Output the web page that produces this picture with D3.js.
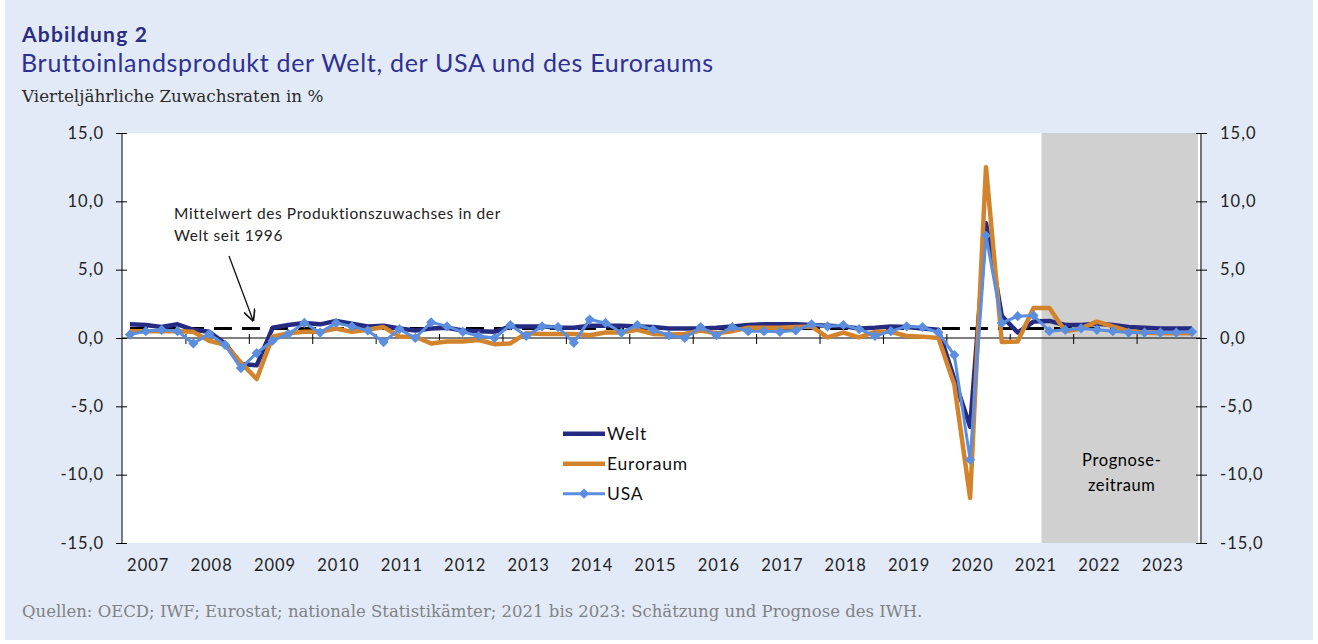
<!DOCTYPE html>
<html>
<head>
<meta charset="utf-8">
<script src="https://cdn.jsdelivr.net/npm/d3@7"></script>
<style>
  body { margin: 0; background: #ffffff; }
  svg { display: block; }
</style>
</head>
<body>
<svg id="chart"></svg>
<script>
// Quartale 2007Q1 bis 2023Q4
const years = d3.range(2007, 2024);
const quarters = years.flatMap(y => [1, 2, 3, 4].map(q => y + "Q" + q));

const welt = [
  1.0, 0.95, 0.8, 1.0, 0.6, 0.45, -0.4, -1.9,
  -2.0, 0.75, 0.95, 1.1, 1.0, 1.25, 1.05, 0.85,
  0.9, 0.7, 0.55, 0.7, 0.75, 0.55, 0.5, 0.45,
  0.85, 0.85, 0.85, 0.75, 0.75, 0.9, 0.9, 0.9,
  0.85, 0.8, 0.7, 0.7, 0.7, 0.75, 0.85, 0.95,
  1.0, 1.0, 1.0, 0.95, 0.9, 0.85, 0.7, 0.75,
  0.85, 0.8, 0.7, 0.6, -3.0, -6.5, 8.4, 1.6,
  0.4, 1.2, 1.25, 0.95, 0.95, 1.05, 0.95, 0.8,
  0.75, 0.7, 0.7, 0.7
];

const euroraum = [
  0.5, 0.5, 0.5, 0.5, 0.45, -0.2, -0.5, -1.8,
  -3.0, 0.1, 0.35, 0.45, 0.45, 0.7, 0.45, 0.6,
  0.8, 0.1, 0.1, -0.4, -0.25, -0.25, -0.15, -0.45,
  -0.4, 0.35, 0.3, 0.3, 0.3, 0.2, 0.4, 0.4,
  0.6, 0.3, 0.25, 0.3, 0.55, 0.35, 0.5, 0.75,
  0.75, 0.75, 0.8, 0.85, 0.05, 0.4, 0.05, 0.45,
  0.45, 0.15, 0.1, 0.0, -3.4, -11.7, 12.5, -0.3,
  -0.25, 2.2, 2.2, 0.5, 0.7, 1.2, 0.85, 0.5,
  0.4, 0.35, 0.35, 0.35
];

const usa = [
  0.25, 0.5, 0.6, 0.5, -0.4, 0.3, -0.5, -2.2,
  -1.1, -0.2, 0.3, 1.1, 0.4, 1.1, 0.85, 0.55,
  -0.3, 0.65, 0.0, 1.15, 0.85, 0.45, 0.15, 0.0,
  0.95, 0.15, 0.85, 0.8, -0.35, 1.35, 1.1, 0.4,
  0.95, 0.6, 0.2, 0.0, 0.8, 0.2, 0.8, 0.5,
  0.5, 0.45, 0.55, 1.0, 0.85, 0.95, 0.65, 0.15,
  0.5, 0.85, 0.8, 0.4, -1.25, -8.9, 7.5, 1.1,
  1.6, 1.65, 0.5, 0.6, 0.7, 0.6, 0.5, 0.4,
  0.4, 0.4, 0.4, 0.45
];

const mittelwert = 0.7;
const prognoseStart = 58; // ab 2021Q3
const yTicks = [-15, -10, -5, 0, 5, 10, 15];

const series = [
  { name: "Welt", values: welt, color: "#262b82", width: 4.5, marker: false },
  { name: "Euroraum", values: euroraum, color: "#d3832b", width: 4.5, marker: false },
  { name: "USA", values: usa, color: "#5b8ede", width: 3, marker: true }
];

const W = 1318, H = 644;
const margin = { top: 133, right: 118, bottom: 101, left: 122 };
const innerW = W - margin.left - margin.right;
const innerH = H - margin.top - margin.bottom;

const de = d3.formatLocale({ decimal: ",", thousands: ".", grouping: [3], currency: ["", " €"], minus: "-" });
const fmt = de.format(".1f");
const sans = "Lato, sans-serif";
const serif = "'DejaVu Serif', serif";

const svg = d3.select("#chart").attr("width", W).attr("height", H);

// Hintergrund
svg.append("rect").attr("width", W).attr("height", H).attr("fill", "#ffffff");
svg.append("rect").attr("x", 5).attr("y", 0).attr("width", W - 10).attr("height", H - 4).attr("fill", "#e3eaf7");

// Titel
svg.append("text").attr("x", 22).attr("y", 42)
  .style("font-family", sans).style("font-weight", "bold").style("font-size", "21px")
  .style("letter-spacing", "1.2px")
  .attr("fill", "#2b2e7f").text("Abbildung 2");
svg.append("text").attr("x", 21).attr("y", 72)
  .style("font-family", sans).style("font-size", "25px").style("letter-spacing", "0.7px")
  .attr("fill", "#2e3192").text("Bruttoinlandsprodukt der Welt, der USA und des Euroraums");
svg.append("text").attr("x", 22).attr("y", 102)
  .style("font-family", serif).style("font-size", "16.8px")
  .attr("fill", "#2b2b2b").text("Vierteljährliche Zuwachsraten in %");
svg.append("text").attr("x", 22).attr("y", 617)
  .style("font-family", serif).style("font-size", "16.5px")
  .attr("fill", "#7f8285")
  .text("Quellen: OECD; IWF; Eurostat; nationale Statistikämter; 2021 bis 2023: Schätzung und Prognose des IWH.");

const g = svg.append("g").attr("transform", "translate(" + margin.left + "," + margin.top + ")");

const x = d3.scaleLinear().domain([0, quarters.length]).range([0, innerW]);
const y = d3.scaleLinear().domain([-15, 15]).range([innerH, 0]);
const xq = i => x(i + 0.5);

// Plotfläche
g.append("rect").attr("width", innerW).attr("height", innerH).attr("fill", "#ffffff");
g.append("rect")
  .attr("x", x(prognoseStart)).attr("y", 0)
  .attr("width", x(quarters.length) - x(prognoseStart) - 2).attr("height", innerH)
  .attr("fill", "#d0d0d0");

const progText = g.append("text")
  .attr("text-anchor", "middle")
  .style("font-family", sans).style("font-size", "16.5px").style("letter-spacing", "0.6px")
  .attr("fill", "#000");
progText.append("tspan").attr("x", x(63) + 1).attr("y", y(-9.4)).text("Prognose-");
progText.append("tspan").attr("x", x(63) + 1).attr("y", y(-11.2)).text("zeitraum");

// Y-Achsen links und rechts
const axisFont = sel => sel.selectAll("text")
  .style("font-family", sans).style("font-size", "16.5px").style("letter-spacing", "1px").attr("fill", "#222");

const yLeft = g.append("g")
  .call(d3.axisLeft(y).tickValues(yTicks).tickFormat(fmt).tickSize(6).tickPadding(12));
yLeft.selectAll(".tick line").attr("x2", -6).attr("x1", 5);
yLeft.select(".domain").attr("d", "M0," + y(15) + "V" + y(-15));
axisFont(yLeft);

const yRight = g.append("g").attr("transform", "translate(" + (innerW + 1) + ",0)")
  .call(d3.axisRight(y).tickValues(yTicks).tickFormat(fmt).tickSize(6).tickPadding(13));
yRight.selectAll(".tick line").attr("x2", 6).attr("x1", -5);
yRight.select(".domain").attr("d", "M0," + y(15) + "V" + y(-15));
axisFont(yRight);

// Nulllinie mit Jahresmarken
const xZero = g.append("g").attr("transform", "translate(0," + y(0) + ")")
  .call(d3.axisBottom(x).tickValues(d3.range(4, quarters.length, 4)).tickFormat("").tickSize(6));
xZero.selectAll(".tick line").attr("y1", -4);
xZero.select(".domain").attr("d", "M0,0H" + innerW);

// Jahreslabels unten
const xYears = g.append("g").attr("transform", "translate(0," + innerH + ")")
  .call(d3.axisBottom(x).tickValues(years.map((yr, k) => k * 4 + 2)).tickFormat((d, k) => years[k]).tickSize(0).tickPadding(16));
xYears.select(".domain").remove();
xYears.selectAll("text").attr("dx", -6);
axisFont(xYears);

// Mittelwertlinie
g.append("line")
  .attr("x1", xq(0)).attr("x2", xq(quarters.length - 1))
  .attr("y1", y(mittelwert)).attr("y2", y(mittelwert))
  .attr("stroke", "#000").attr("stroke-width", 3).attr("stroke-dasharray", "18,10");

// Linien
const line = d3.line().x((d, i) => xq(i)).y(d => y(d));
series.forEach(s => {
  g.append("path").datum(s.values)
    .attr("fill", "none").attr("stroke", s.color).attr("stroke-width", s.width)
    .attr("stroke-linejoin", "round").attr("d", line);
  if (s.marker) {
    g.append("g").selectAll("path").data(s.values).join("path")
      .attr("d", d3.symbol(d3.symbolSquare, 52))
      .attr("transform", (d, i) => "translate(" + xq(i) + "," + y(d) + ") rotate(45)")
      .attr("fill", s.color);
  }
});

// Annotation
const ann = g.append("text")
  .style("font-family", sans).style("font-size", "15.5px").style("letter-spacing", "0.6px")
  .attr("fill", "#222");
ann.append("tspan").attr("x", 52).attr("y", y(8.7)).text("Mittelwert des Produktionszuwachses in der");
ann.append("tspan").attr("x", 52).attr("y", y(7.1)).text("Welt seit 1996");

svg.append("defs").append("marker")
  .attr("id", "arrow").attr("viewBox", "0 0 10 10").attr("refX", 9).attr("refY", 5)
  .attr("markerWidth", 9).attr("markerHeight", 9).attr("orient", "auto")
  .append("path").attr("d", "M0,0L10,5L0,10").attr("fill", "none").attr("stroke", "#111").attr("stroke-width", 1.4);
g.append("line")
  .attr("x1", 107).attr("y1", y(6.0)).attr("x2", 131).attr("y2", y(1.3))
  .attr("stroke", "#111").attr("stroke-width", 1.3).attr("marker-end", "url(#arrow)");

// Legende
const legend = g.append("g").attr("transform", "translate(441," + y(-7.0) + ")");
series.forEach((s, i) => {
  const row = legend.append("g").attr("transform", "translate(0," + i * 30 + ")");
  row.append("line").attr("x1", 0).attr("x2", 42).attr("stroke", s.color).attr("stroke-width", s.width);
  if (s.marker) {
    row.append("path").attr("d", d3.symbol(d3.symbolSquare, 52))
      .attr("transform", "translate(21,0) rotate(45)").attr("fill", s.color);
  }
  row.append("text").attr("x", 44).attr("y", 6)
    .style("font-family", sans).style("font-size", "17.5px").style("letter-spacing", "0.8px")
    .attr("fill", "#111").text(s.name);
});
</script>
</body>
</html>
